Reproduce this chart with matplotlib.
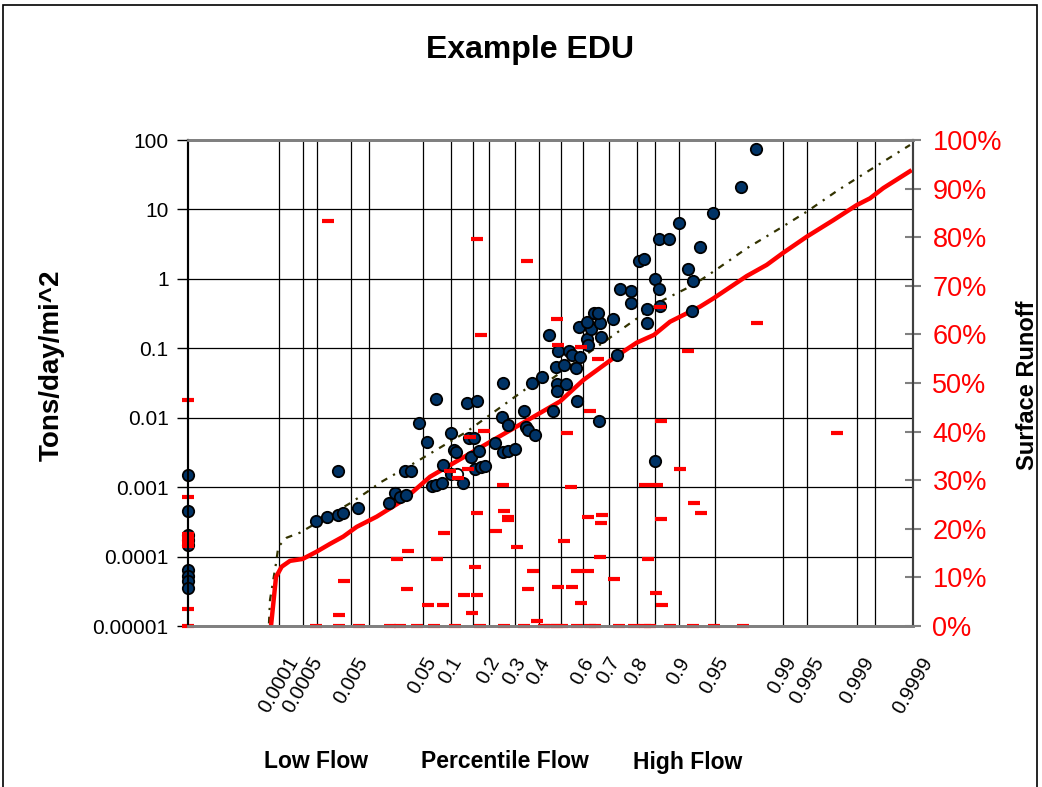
import matplotlib
matplotlib.use("Agg")
import matplotlib.pyplot as plt
from matplotlib.patches import Rectangle
from matplotlib.ticker import FixedLocator, NullLocator

plt.rcParams['font.family'] = ['Liberation Sans', 'DejaVu Sans']

# ---------------- data (x = plotting position, 0..100 across the plot) -------------
grid_pos = [12.51, 15.82, 17.75, 22.44, 24.92, 32.37, 36.23, 39.27, 41.48, 45.06,
            48.37, 51.41, 54.44, 58.03, 61.89, 64.37, 67.68, 72.65, 82.03, 85.34,
            92.23, 94.75, 99.96]
grid_labels = ["0.0001", "0.0005", "", "0.005", "", "0.05", "0.1", "", "0.2", "0.3",
               "0.4", "", "0.6", "0.7", "0.8", "", "0.9", "0.95", "0.99", "0.995",
               "0.999", "", "0.9999"]

y_ticks = [1e-5, 1e-4, 1e-3, 1e-2, 1e-1, 1, 10, 100]
y_ticklabels = ["0.00001", "0.0001", "0.001", "0.01", "0.1", "1", "10", "100"]

# observed load (Tons/day/mi^2)
load_x = [0, 0, 0, 0, 0, 0, 0, 0, 0,
          17.61, 19.21, 20.73, 21.42, 23.41, 20.65, 27.77, 28.59, 29.2, 30.04,
          29.93, 30.72, 31.86, 33.03, 34.14, 35.21, 36.34, 36.69, 36.97, 36.34,
          37.97, 33.59, 34.21, 34.99, 38.52, 39.9, 38.8, 39.45, 39.1, 40.18,
          39.59, 40.41, 40.9, 42.34, 43.27, 44.1, 43.49, 44.1, 45.14, 46.28,
          46.59, 46.9, 47.93, 43.49, 47.41, 48.79, 50.41, 50.94, 52.14, 50.94,
          53.7, 56.73, 49.83, 50.97, 52.62, 52.92, 54.07, 50.69, 51.86, 53.45,
          59.21, 55.08, 55.17, 57.01, 53.97, 55.63, 55.1, 56.76, 56.0, 56.52,
          58.66, 63.35, 63.35, 65.1, 59.52, 61.14, 61.14, 64.48, 65.01, 62.23,
          62.83, 64.99, 66.39, 64.41, 67.68, 68.9, 69.7, 70.59, 69.45, 72.41,
          76.28, 78.3]
load_y = [0.0015, 4.53e-4, 2.05e-4, 1.73e-4, 1.47e-4, 6.41e-5, 5.25e-5, 4.45e-5, 3.53e-5,
          3.25e-4, 3.75e-4, 3.97e-4, 4.29e-4, 4.96e-4, 1.71e-3, 5.85e-4, 8.37e-4, 7.28e-4, 7.7e-4,
          1.73e-3, 1.73e-3, 8.48e-3, 4.40e-3, 0.0186, 2.08e-3, 6.12e-3, 3.43e-3, 3.16e-3, 1.55e-3,
          1.16e-3, 1.03e-3, 1.07e-3, 1.16e-3, 0.0164, 0.0174, 5.06e-3, 5.06e-3, 2.75e-3, 3.35e-3,
          1.85e-3, 1.95e-3, 2.0e-3, 4.37e-3, 0.01035, 7.85e-3, 3.19e-3, 3.35e-3, 3.54e-3, 0.0127,
          7.43e-3, 6.76e-3, 5.69e-3, 0.0319, 0.0316, 0.039, 0.0126, 0.0301, 0.0301, 0.0243,
          0.0176, 9.06e-3, 0.155, 0.092, 0.0924, 0.080, 0.075, 0.0543, 0.0574, 0.0515,
          0.080, 0.137, 0.110, 0.147, 0.201, 0.190, 0.238, 0.235, 0.317, 0.326,
          0.264, 0.366, 0.234, 0.40, 0.721, 0.669, 0.454, 1.0, 0.71, 1.82,
          1.95, 3.75, 3.75, 2.40e-3, 6.44, 1.39, 0.931, 2.91, 0.347, 8.89,
          21.0, 74.2]

# open (white) marker
open_x = [37.17]
open_y = [1.54e-3]

# surface runoff of each sample (%)
runoff_x = [0, 0, 0, 0, 0, 0, 0, 0,
            19.35, 39.82, 46.72, 40.37, 50.86, 51.08, 54.17, 56.59, 65.1, 68.97,
            78.44, 89.48, 55.45, 65.2, 52.21, 40.87, 38.9, 38.66, 37.28, 36.14,
            67.9, 43.41, 52.79, 63.03, 64.65, 69.83, 70.72, 39.82, 43.63, 44.18,
            44.18, 55.21, 57.14, 56.9, 65.2, 42.52, 35.35, 51.93, 45.34, 30.39,
            28.79, 34.28, 56.87, 63.49, 39.59, 47.52, 53.72, 55.21, 58.8, 21.52,
            30.14, 46.94, 51.08, 53.03, 64.62, 38.11, 39.82, 33.14, 35.13, 54.17,
            65.42, 20.83, 39.24, 48.1,
            17.61, 20.83, 23.54, 27.86, 29.24, 31.54, 33.93, 36.83, 40.28, 43.59,
            46.34, 49.1, 49.93, 50.9, 51.59, 53.72, 55.45, 56.14, 59.49, 61.52,
            63.1, 63.72, 66.55, 69.59, 72.55, 76.51]
runoff_pct = [46.4, 26.6, 18.9, 18.1, 17.3, 16.5, 3.4, 0,
              83.4, 79.6, 75.1, 59.9, 63.2, 57.8, 57.4, 55.0, 65.7, 56.6,
              62.4, 39.8, 44.2, 42.2, 39.8, 40.2, 38.95, 32.3, 30.35, 31.9,
              32.3, 29.0, 28.6, 29.0, 29.0, 25.4, 23.3, 23.3, 23.7, 22.5,
              21.75, 22.5, 22.8, 21.25, 22.1, 19.6, 19.2, 17.5, 16.3, 15.5,
              13.8, 13.8, 14.26, 13.85, 12.2, 11.4, 11.4, 11.4, 9.73, 9.32,
              7.65, 7.67, 8.09, 8.09, 6.85, 6.44, 6.44, 4.42, 4.42, 4.79,
              4.38, 2.26, 2.74, 1.09,
              0, 0, 0, 0, 0, 0, 0, 0, 0, 0,
              0, 0, 0, 0, 0, 0, 0, 0, 0, 0,
              0, 0, 0, 0, 0, 0]

# cumulative surface runoff curve (%)
curve_x = [11.45, 12.14, 12.92, 14.07, 15.82, 17.75, 19.59, 21.42, 23.27, 26.03,
           29.70, 33.38, 36.14, 38.9, 51.31, 54.52, 58.66, 61.89, 64.28, 66.48,
           70.62, 72.46, 77.06, 79.82, 82.11, 85.34, 89.01, 92.23, 94.07, 95.9, 99.82]
curve_pct = [0, 10.1, 12.2, 13.4, 13.8, 15.3, 16.9, 18.4, 20.4, 22.5,
             25.9, 30.7, 33.1, 35.5, 46.2, 50.6, 55.1, 58.3, 59.9, 62.6,
             65.7, 67.4, 72.0, 74.3, 76.8, 80.1, 83.5, 86.6, 88.0, 90.1, 93.8]

# load duration curve (Tons/day/mi^2)
ldc_x = [11.17, 11.31, 12.14, 12.46, 13.61, 15.45, 22.34, 25.1, 26.48, 31.54,
         38.44, 46.72, 49.93, 57.75, 60.97, 65.56, 69.70, 72.46, 77.06, 81.66,
         85.34, 89.70, 94.07, 99.59]
ldc_y = [1.09e-5, 2.37e-5, 8.0e-5, 1.39e-4, 1.87e-4, 2.21e-4, 5.85e-4, 9.1e-4, 1.16e-3, 2.33e-3,
         6.29e-3, 0.0265, 0.0349, 0.1316, 0.229, 0.496, 0.816, 1.27, 2.75, 5.35,
         9.27, 19.05, 37.0, 84.7]

# ---------------- figure ----------------
W, H = 1042, 787
fig = plt.figure(figsize=(W / 100, H / 100), dpi=100)
L, R, T, B = 188, 913, 140, 626
ax = fig.add_axes([L / W, 1 - B / H, (R - L) / W, (B - T) / H])
ax2 = ax.twinx()

ax.set_xlim(0, 100)
ax.set_yscale('log')
ax.set_ylim(1e-5, 100)
ax2.set_ylim(0, 100)

# grid
ax.xaxis.set_major_locator(FixedLocator(grid_pos))
ax.set_xticklabels(grid_labels, rotation=60, ha='center', va='top', fontsize=14.5)
ax.tick_params(axis='x', length=0, pad=20)
ax.xaxis.set_minor_locator(NullLocator())
ax.yaxis.set_major_locator(FixedLocator(y_ticks))
ax.yaxis.set_minor_locator(NullLocator())
ax.set_yticklabels(y_ticklabels, fontsize=15)
ax.tick_params(axis='y', direction='out', length=8, width=1, color='black', pad=6)
ax.grid(True, which='major', color='black', linewidth=0.9)
ax.set_axisbelow(True)

ax2.set_yticks(list(range(0, 101, 10)))
ax2.set_yticklabels([f"{v}%" for v in range(0, 101, 10)], color='red', fontsize=19.5)
ax2.tick_params(axis='y', direction='inout', length=12, width=1.5, color='#808080', pad=8)

for a in (ax, ax2):
    a.spines['top'].set_color('#808080')
    a.spines['bottom'].set_color('#808080')
    a.spines['top'].set_linewidth(2)
    a.spines['bottom'].set_linewidth(2)
    a.spines['left'].set_color('black')
    a.spines['left'].set_linewidth(1.5)
    a.spines['right'].set_color('#404040')
    a.spines['right'].set_linewidth(1.5)

pct_tr = ax2.transData

# lines
ax.plot(ldc_x, ldc_y, color='#333300', linewidth=1.6, linestyle=(0, (3, 3, 1, 3)), zorder=3)
ax.plot(curve_x, curve_pct, color='#ff0000', linewidth=3.2, transform=pct_tr, zorder=4,
        solid_capstyle='butt')
# points
ax.plot(load_x, load_y, linestyle='none', marker='o', markersize=8.2,
        markerfacecolor='#003366', markeredgecolor='black', markeredgewidth=1.3,
        zorder=5, clip_on=False)
ax.plot(open_x, open_y, linestyle='none', marker='o', markersize=8.2,
        markerfacecolor='white', markeredgecolor='black', markeredgewidth=1.3, zorder=5)
ax.plot(runoff_x, runoff_pct, linestyle='none', marker='_', markersize=8,
        markeredgewidth=3, color='#ff0000', transform=pct_tr, zorder=6, clip_on=False)

# labels
fig.text(530 / W, 1 - 50 / H, "Example EDU", ha='center', va='center',
         fontsize=23, fontweight='bold')
fig.text(52 / W, 1 - 365 / H, "Tons/day/mi^2", rotation=90, ha='center', va='center',
         fontsize=20, fontweight='bold')
fig.text(1027 / W, 1 - 385 / H, "Surface Runoff", rotation=90, ha='center', va='center',
         fontsize=17, fontweight='bold')
for txt, xp in [("Low Flow", 316), ("Percentile Flow", 505), ("High Flow", 688)]:
    fig.text(xp / W, 1 - 762 / H, txt, ha='center', va='center', fontsize=16.5,
             fontweight='bold')

# chart-area border
fig.patches.append(Rectangle((3 / W, -0.01), 1034 / W, 1.0 - 5 / H + 0.01,
                             transform=fig.transFigure, fill=False,
                             edgecolor='black', linewidth=1.2))

fig.savefig("out.png", dpi=100)
